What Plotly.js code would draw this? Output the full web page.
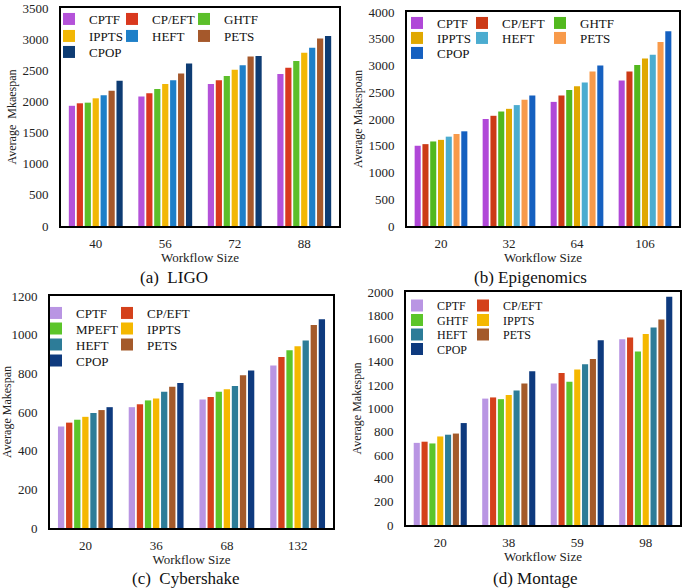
<!DOCTYPE html>
<html><head><meta charset="utf-8">
<script src="https://cdn.plot.ly/plotly-3.0.1.min.js"></script>
<style>html,body{margin:0;padding:0;background:#fff}#chart{width:685px;height:588px}</style>
</head><body><div id="chart"></div>
<script>
const FONT = '"Liberation Serif", "Times New Roman", serif';
const W = 685, H = 588;

// Workflow sizes (categories)
const ligoSizes = ['40', '56', '72', '88'];
const epiSizes = ['20', '32', '64', '106'];
const cyberSizes = ['20', '36', '68', '132'];
const montageSizes = ['20', '38', '59', '98'];

// Series names
const namesGHTF = ['CPTF', 'CP/EFT', 'GHTF', 'IPPTS', 'HEFT', 'PETS', 'CPOP'];
const namesMPEFT = ['CPTF', 'CP/EFT', 'MPEFT', 'IPPTS', 'HEFT', 'PETS', 'CPOP'];

// Values: one row per series (same order as names), one column per workflow size
const ligoValues = [
  [1930, 2080, 2280, 2440],
  [1970, 2130, 2340, 2540],
  [1980, 2200, 2410, 2650],
  [2050, 2280, 2510, 2780],
  [2100, 2340, 2580, 2860],
  [2170, 2450, 2720, 3010],
  [2330, 2610, 2730, 3050]
];
const epiValues = [
  [1500, 2000, 2320, 2720],
  [1530, 2060, 2440, 2890],
  [1580, 2140, 2540, 3010],
  [1610, 2190, 2610, 3130],
  [1670, 2260, 2680, 3200],
  [1720, 2360, 2890, 3440],
  [1770, 2440, 3000, 3640]
];
const cyberValues = [
  [525, 625, 665, 840],
  [545, 640, 678, 885],
  [560, 660, 705, 920],
  [575, 670, 718, 940],
  [595, 705, 735, 970],
  [610, 730, 790, 1050],
  [625, 750, 815, 1080]
];
const montageValues = [
  [705, 1085, 1215, 1595],
  [715, 1095, 1305, 1610],
  [700, 1080, 1230, 1490],
  [760, 1115, 1335, 1640],
  [775, 1155, 1380, 1695],
  [785, 1215, 1425, 1765],
  [875, 1320, 1585, 1960]
];

// Colours
const ligoColors = ['#b452d9', '#d9381e', '#5cbf2a', '#f2b705', '#1e7fc8', '#a5582b', '#0e3c73'];
const epiColors = ['#b048d8', '#cc3a16', '#52b81e', '#e0a800', '#4bacd0', '#f89a4a', '#1560c0'];
const cyberColors = ['#b995e3', '#d4411b', '#5cc52a', '#f5b800', '#2d7c98', '#a45a2a', '#0e3a7e'];
const montageColors = ['#b995e3', '#d4411b', '#5cc52a', '#f5b800', '#2d7c98', '#a45a2a', '#0e3a7e'];

const panels = [
  {sizes: ligoSizes, names: namesGHTF, values: ligoValues, colors: ligoColors,
   box: [61, 8, 339, 226], yMax: 3500, yStep: 500, yTitle: 'Average  Mkaespan',
   caption: '(a)  LIGO', capX: 174, capY: 277, legX: [89, 152, 224], legY: [19, 36, 52], cols: 3, legFont: 13},
  {sizes: epiSizes, names: namesGHTF, values: epiValues, colors: epiColors,
   box: [407, 12, 679, 226], yMax: 4000, yStep: 500, yTitle: 'Average Makespoan',
   caption: '(b) Epigenomics', capX: 530, capY: 277, legX: [437, 502, 580], legY: [23, 38, 53], cols: 3, legFont: 13},
  {sizes: cyberSizes, names: namesMPEFT, values: cyberValues, colors: cyberColors,
   box: [50, 296, 333, 528], yMax: 1200, yStep: 200, yTitle: 'Average Makespan',
   caption: '(c)  Cybershake', capX: 186, capY: 578, legX: [76, 147], legY: [313, 328.5, 344.5, 360.5], cols: 2, legFont: 13},
  {sizes: montageSizes, names: namesGHTF, values: montageValues, colors: montageColors,
   box: [406, 292, 680, 525], yMax: 2000, yStep: 200, yTitle: 'Average Makespan',
   caption: '(d) Montage', capX: 535, capY: 578, legX: [437, 503], legY: [305.5, 320, 334.5, 349], cols: 2, legFont: 12}
];

const traces = [];
const annotations = [];
const layout = {
  width: W, height: H,
  margin: {l: 0, r: 0, t: 0, b: 0},
  paper_bgcolor: '#ffffff', plot_bgcolor: '#ffffff',
  font: {family: FONT, color: '#111', size: 13},
  barmode: 'group', bargap: 0.2, bargroupgap: 0.22,
  showlegend: true
};

let legendCount = 0;
panels.forEach((p, pi) => {
  const ax = pi === 0 ? '' : String(pi + 1);
  layout['xaxis' + ax] = {
    domain: [p.box[0] / W, p.box[2] / W], anchor: 'y' + ax, type: 'category',
    showline: true, mirror: true, linecolor: '#000', linewidth: 1.8,
    ticks: 'outside', ticklen: 4, tickcolor: 'rgba(0,0,0,0)',
    tickfont: {family: FONT, size: 13, color: '#222'},
    title: {text: 'Workflow Size', font: {family: FONT, size: 13, color: '#222'}, standoff: 2},
    showgrid: false, zeroline: false, fixedrange: true
  };
  layout['yaxis' + ax] = {
    domain: [1 - p.box[3] / H, 1 - p.box[1] / H], anchor: 'x' + ax,
    range: [0, p.yMax], dtick: p.yStep, tick0: 0,
    showline: true, mirror: true, linecolor: '#000', linewidth: 1.8,
    ticks: 'outside', ticklen: 8, tickcolor: 'rgba(0,0,0,0)',
    tickfont: {family: FONT, size: 13, color: '#222'},
    title: {text: p.yTitle, font: {family: FONT, size: 12, color: '#222'}, standoff: 3},
    showgrid: false, zeroline: false, fixedrange: true
  };
  p.names.forEach((name, si) => {
    legendCount++;
    const lid = legendCount === 1 ? 'legend' : 'legend' + legendCount;
    const r = Math.floor(si / p.cols), c = si % p.cols;
    layout[lid] = {
      x: (p.legX[c] - 40) / W, xanchor: 'left',
      y: 1 - p.legY[r] / H, yanchor: 'middle',
      bgcolor: 'rgba(0,0,0,0)', borderwidth: 0, orientation: 'v',
      font: {family: FONT, size: p.legFont, color: '#111'}
    };
    traces.push({
      type: 'bar', name: name, x: p.sizes, y: p.values[si],
      xaxis: 'x' + ax, yaxis: 'y' + ax, legend: lid,
      marker: {color: p.colors[si], line: {width: 0}},
      hoverinfo: 'x+y+name'
    });
  });
  annotations.push({
    text: p.caption, xref: 'paper', yref: 'paper',
    x: p.capX / W, y: 1 - p.capY / H, xanchor: 'center', yanchor: 'middle',
    showarrow: false, font: {family: FONT, size: 17, color: '#111'}
  });
});
layout.annotations = annotations;

Plotly.newPlot('chart', traces, layout, {displayModeBar: false, responsive: false});
</script></body></html>
